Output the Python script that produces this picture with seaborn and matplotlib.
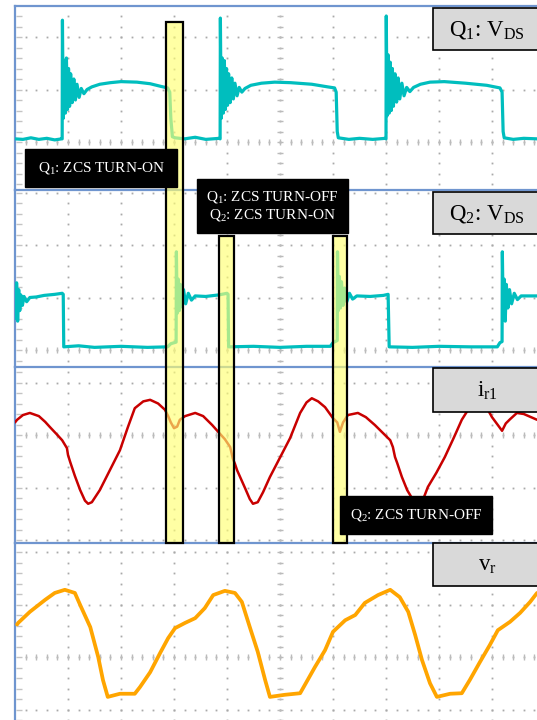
import numpy as np
import matplotlib
matplotlib.use('Agg')
import matplotlib.pyplot as plt
from matplotlib.patches import Rectangle
import seaborn as sns

# ---------------- data (time and amplitude in scope divisions) ----------------
q1_t = [0.00, 0.15, 0.30, 0.45, 0.60, 0.75, 0.88,
        0.89, 0.895, 0.91, 0.93, 0.95, 0.97, 0.99, 1.01, 1.03, 1.05, 1.08, 1.11, 1.14, 1.17, 1.21, 1.25,
        1.30, 1.36, 1.45, 1.60, 1.80, 2.00, 2.30, 2.55, 2.75, 2.88, 2.92, 2.94, 2.97, 3.02, 3.20, 3.40,
        3.60, 3.86,
        3.87, 3.875, 3.89, 3.91, 3.93, 3.95, 3.97, 3.99, 4.01, 4.03, 4.06, 4.09, 4.12, 4.15, 4.19, 4.23,
        4.28, 4.34, 4.45, 4.65, 4.90, 5.20, 5.60, 5.90, 6.03, 6.06, 6.08, 6.10, 6.30, 6.50, 6.75, 6.99,
        7.00, 7.005, 7.02, 7.04, 7.06, 7.08, 7.10, 7.12, 7.14, 7.17, 7.20, 7.23, 7.26, 7.30, 7.34, 7.39,
        7.45, 7.52, 7.65, 7.83, 8.10, 8.50, 8.90, 9.15, 9.19, 9.21, 9.23, 9.40, 9.60, 9.85]
q1_v = [0.06, 0.05, 0.08, 0.05, 0.07, 0.04, 0.06,
        0.06, 2.32, 0.45, 1.55, 0.55, 1.60, 0.62, 1.40, 0.68, 1.30, 0.75, 1.20, 0.80, 1.10, 0.85, 1.02,
        0.92, 1.00, 1.05, 1.10, 1.13, 1.15, 1.14, 1.11, 1.06, 1.03, 0.95, 0.45, 0.10, 0.08, 0.06, 0.09,
        0.05, 0.07,
        0.06, 2.36, 0.45, 1.60, 0.55, 1.55, 0.62, 1.40, 0.70, 1.30, 0.75, 1.22, 0.82, 1.12, 0.88, 1.04,
        0.95, 1.02, 1.08, 1.12, 1.14, 1.13, 1.10, 1.05, 1.03, 0.95, 0.20, 0.08, 0.05, 0.07, 0.05, 0.07,
        0.06, 2.40, 0.50, 1.66, 0.55, 1.52, 0.60, 1.40, 0.68, 1.30, 0.76, 1.22, 0.82, 1.12, 0.88, 1.04,
        0.96, 1.04, 1.10, 1.14, 1.15, 1.12, 1.08, 1.03, 0.95, 0.20, 0.08, 0.05, 0.07, 0.06]

q2_t = [0.02, 0.03, 0.05, 0.07, 0.09, 0.11, 0.14, 0.17, 0.22, 0.28, 0.40, 0.55, 0.75, 0.89, 0.91, 0.92,
        1.20, 1.50, 2.00, 2.50, 2.88, 2.94, 3.04, 3.045, 3.06, 3.08, 3.10, 3.12, 3.15, 3.18, 3.22, 3.27,
        3.33, 3.40, 3.60, 3.85, 4.00, 4.02, 4.03, 4.50, 5.00, 5.50, 5.95, 6.00, 6.08, 6.085, 6.10, 6.12,
        6.14, 6.16, 6.19, 6.22, 6.26, 6.31, 6.37, 6.45, 6.70, 6.95, 7.04, 7.06, 7.50, 8.00, 8.60, 9.10,
        9.15, 9.19, 9.195, 9.21, 9.23, 9.25, 9.27, 9.30, 9.33, 9.37, 9.42, 9.48, 9.55, 9.85]
q2_v = [0.60, 1.28, 0.55, 1.15, 0.75, 1.05, 0.85, 1.02, 0.92, 1.00, 1.01, 1.04, 1.06, 1.08, 1.06, 0.06,
        0.08, 0.05, 0.07, 0.05, 0.06, 0.12, 0.15, 1.87, 0.70, 1.35, 0.75, 1.25, 0.82, 1.15, 0.88, 1.08,
        0.95, 1.03, 1.02, 1.05, 1.08, 1.06, 0.06, 0.07, 0.05, 0.07, 0.07, 0.14, 0.18, 1.87, 0.75, 1.40,
        0.80, 1.30, 0.85, 1.18, 0.92, 1.08, 0.97, 1.03, 1.02, 1.04, 1.06, 0.06, 0.05, 0.07, 0.06, 0.06,
        0.14, 0.16, 1.87, 0.80, 1.35, 0.55, 1.25, 0.80, 1.15, 0.88, 1.08, 0.96, 1.03, 1.03]

ir_t = [0.00, 0.04, 0.15, 0.28, 0.45, 0.57, 0.66, 0.80, 0.89, 0.98, 1.00, 1.04, 1.13, 1.23, 1.32, 1.38,
        1.45, 1.60, 1.79, 1.98, 2.13, 2.26, 2.42, 2.55, 2.70, 2.83, 2.89, 2.94, 3.00, 3.06, 3.11, 3.21,
        3.40, 3.55, 3.72, 3.87, 3.96, 4.06, 4.11, 4.15, 4.19, 4.34, 4.43, 4.49, 4.58, 4.68, 4.81, 5.00,
        5.19, 5.38, 5.50, 5.60, 5.72, 5.85, 6.00, 6.08, 6.13, 6.19, 6.28, 6.47, 6.62, 6.79, 6.95, 7.08,
        7.13, 7.17, 7.21, 7.30, 7.40, 7.50, 7.60, 7.68, 7.79, 7.95, 8.11, 8.28, 8.43, 8.58, 8.77, 8.90,
        9.00, 9.11, 9.19, 9.26, 9.34, 9.47, 9.60, 9.85]
ir_v = [0.24, 0.29, 0.38, 0.42, 0.36, 0.25, 0.15, 0.00, -0.10, -0.25, -0.38, -0.51, -0.78, -1.05, -1.25,
        -1.31, -1.28, -1.05, -0.67, -0.29, 0.15, 0.51, 0.64, 0.67, 0.60, 0.48, 0.36, 0.24, 0.13, 0.16,
        0.29, 0.36, 0.42, 0.36, 0.19, 0.02, -0.08, -0.23, -0.45, -0.55, -0.67, -1.01, -1.22, -1.31, -1.28,
        -1.09, -0.80, -0.43, -0.06, 0.42, 0.62, 0.70, 0.64, 0.53, 0.32, 0.24, 0.06, 0.24, 0.38, 0.42,
        0.34, 0.19, 0.03, -0.10, -0.23, -0.42, -0.53, -0.80, -1.05, -1.22, -1.31, -1.28, -0.99, -0.72,
        -0.42, -0.05, 0.29, 0.53, 0.67, 0.52, 0.34, 0.19, 0.08, 0.22, 0.30, 0.42, 0.40, 0.29]

vr_t = [0.04, 0.06, 0.28, 0.57, 0.75, 0.94, 1.13, 1.23, 1.42, 1.57, 1.66, 1.75, 1.98, 2.26, 2.36, 2.55,
        2.74, 2.89, 3.02, 3.21, 3.40, 3.58, 3.74, 3.96, 4.15, 4.28, 4.43, 4.58, 4.72, 4.81, 5.09, 5.38,
        5.47, 5.66, 5.85, 6.00, 6.23, 6.42, 6.60, 6.85, 7.08, 7.26, 7.42, 7.55, 7.68, 7.83, 7.96, 8.21,
        8.43, 8.58, 8.77, 8.96, 9.11, 9.34, 9.53, 9.72, 9.85]
vr_v = [0.62, 0.65, 0.86, 1.09, 1.22, 1.28, 1.22, 0.99, 0.57, 0.00, -0.44, -0.76, -0.70, -0.70, -0.57,
        -0.29, 0.08, 0.36, 0.55, 0.65, 0.74, 0.93, 1.18, 1.26, 1.22, 1.05, 0.57, 0.10, -0.44, -0.76,
        -0.72, -0.69, -0.53, -0.19, 0.13, 0.48, 0.70, 0.80, 1.03, 1.18, 1.28, 1.14, 0.86, 0.42, -0.06,
        -0.50, -0.76, -0.70, -0.69, -0.44, -0.10, 0.23, 0.51, 0.67, 0.84, 1.05, 1.22]

panel_labels = [r'Q$_{\mathrm{1}}$: V$_{\mathrm{DS}}$', r'Q$_{\mathrm{2}}$: V$_{\mathrm{DS}}$',
                r'i$_{\mathrm{r1}}$', r'v$_{\mathrm{r}}$']
note_labels = [r'Q$_{\mathrm{1}}$: ZCS TURN-ON',
               'Q$_{\\mathrm{1}}$: ZCS TURN-OFF\nQ$_{\\mathrm{2}}$: ZCS TURN-ON',
               r'Q$_{\mathrm{2}}$: ZCS TURN-OFF']

# ---------------- style ----------------
sns.set_style('white')
plt.rcParams['font.family'] = ['Liberation Serif', 'DejaVu Serif']
plt.rcParams['mathtext.fontset'] = 'custom'
plt.rcParams['mathtext.rm'] = 'Liberation Serif'
plt.rcParams['mathtext.it'] = 'Liberation Serif:italic'
plt.rcParams['mathtext.bf'] = 'Liberation Serif:bold'

W, H = 537, 720
fig = plt.figure(figsize=(W / 100, H / 100), dpi=100)
fig.patch.set_facecolor('white')

DIVX, DIVY, X0 = 53.0, 52.5, 15
# (top px, bottom px, centre-line px)
layout = [(6, 190, 142), (190, 367, 350), (367, 543, 435), (543, 720, 657)]
series = [(q1_t, q1_v, '#00BEBE', 2.3), (q2_t, q2_v, '#00BEBE', 2.3),
          (ir_t, ir_v, '#C80000', 1.8), (vr_t, vr_v, '#FFA500', 2.7)]
blue = '#6F95CF'
gridc = '#A9A9A9'

for (top, bot, cen), (t, v, col, lw) in zip(layout, series):
    ax = fig.add_axes([X0 / W, 1 - bot / H, (W - X0) / W, (bot - top) / H])
    x1 = (W - X0) / DIVX
    y0, y1 = (cen - bot) / DIVY, (cen - top) / DIVY
    ax.set_xlim(0, x1)
    ax.set_ylim(y0, y1)
    ys = np.arange(np.ceil(y0 * 5) / 5, y1, 0.2)
    xs = np.arange(0.2, x1, 0.2)
    for k in range(1, int(x1) + 1):
        ax.plot(np.full_like(ys, k), ys, ls='none', marker='s', ms=1.3, mew=0, color=gridc, zorder=1)
    for j in range(int(np.ceil(y0)), int(np.floor(y1)) + 1):
        ax.plot(xs, np.full_like(xs, j), ls='none', marker='s', ms=1.3, mew=0, color=gridc, zorder=1)
    ax.plot(xs, np.zeros_like(xs), ls='none', marker='|', ms=4.5, mew=1.0, color='#BBBBBB', zorder=1)
    ax.plot(np.full_like(ys, 5), ys, ls='none', marker='_', ms=5, mew=1.0, color='#BBBBBB', zorder=1)
    ax.plot(np.full_like(ys, 0.07), ys, ls='none', marker='_', ms=4, mew=1.0, color='#C4C4C4', zorder=1)
    sns.lineplot(x=t, y=v, ax=ax, sort=False, estimator=None, color=col, lw=lw, zorder=3)
    ax.set_xticks([])
    ax.set_yticks([])
    ax.set_xlabel('')
    ax.set_ylabel('')
    for s in ['right', 'bottom']:
        ax.spines[s].set_visible(False)
    for s in ['top', 'left']:
        ax.spines[s].set_color(blue)
        ax.spines[s].set_linewidth(1.6)
    ax.patch.set_alpha(0)

# ---------------- overlay annotations (pixel coordinates) ----------------
ov = fig.add_axes([0, 0, 1, 1])
ov.set_xlim(0, W)
ov.set_ylim(H, 0)
ov.axis('off')
ov.set_zorder(10)

for (x, y, w, h) in [(166, 22, 17, 521), (219, 236, 15, 307), (333, 236, 14, 307)]:
    ov.add_patch(Rectangle((x, y), w, h, facecolor=(1, 1, 0.45, 0.65), edgecolor='black', lw=1.6, zorder=1))

for (y, h, ty), lab in zip([(8, 42, 30), (192, 42, 214), (368, 44, 391), (543, 43, 565)], panel_labels):
    ov.add_patch(Rectangle((433, y), 120, h, facecolor='#D9D9D9', edgecolor='black', lw=1.2, zorder=2))
    ov.text(487, ty, lab, fontsize=16.5, ha='center', va='center', color='black', zorder=3)

for (x, y, w, h), lab in zip([(25, 149, 152, 38), (197, 179, 151, 54), (340, 496, 152, 38)], note_labels):
    ov.add_patch(Rectangle((x, y), w, h, facecolor='black', edgecolor='black', lw=1, zorder=2))
    ov.text(x + w / 2, y + h / 2, lab, fontsize=11, ha='center', va='center', color='white',
            linespacing=1.25, zorder=3)

fig.savefig('out.png', dpi=100)
